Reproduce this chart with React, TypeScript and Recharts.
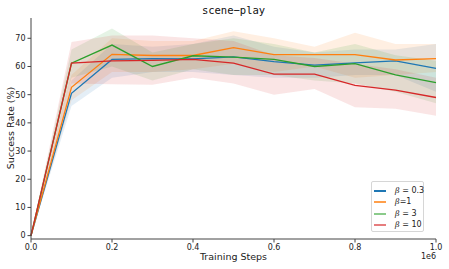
import React from "react";
import {
  ComposedChart,
  Line,
  Area,
  XAxis,
  YAxis,
} from "recharts";

const steps = [0, 100000, 200000, 300000, 400000, 500000, 600000, 700000, 800000, 900000, 1000000];

const beta03 = [0, 50.5, 62.5, 62.8, 62.7, 63.4, 61.7, 60.5, 61.3, 62.0, 59.3];
const beta03Low = [0, 46, 56, 58, 58, 57, 56, 56, 57, 57, 51];
const beta03High = [0, 55, 68, 67, 68, 71, 67, 65, 66, 66, 68];

const beta1 = [0, 52.6, 64.3, 63.9, 63.9, 66.7, 64.2, 64.2, 64.2, 62.3, 62.8];
const beta1Low = [0, 48, 58, 58, 59, 61, 58, 60, 56, 57, 58];
const beta1High = [0, 57, 70, 69, 69, 72.5, 70, 67, 72, 68, 68];

const beta3 = [0, 61.2, 67.6, 60.0, 63.8, 63.3, 62.5, 60.0, 61.0, 57.0, 54.3];
const beta3Low = [0, 56, 60, 55, 59, 57, 57, 55, 54, 51, 47];
const beta3High = [0, 66, 73.5, 65, 68, 70, 68, 65, 68, 64, 62];

const beta10 = [0, 61.2, 62.0, 62.2, 62.5, 61.2, 57.3, 57.3, 53.3, 51.6, 49.0];
const beta10Low = [0, 54, 53.7, 53.5, 56, 54, 50, 52, 45.5, 45, 42.5];
const beta10High = [0, 68.7, 71, 71, 70, 69, 64, 63, 61, 59, 56];

const xTicks = [0, 200000, 400000, 600000, 800000, 1000000];
const yTicks = [0, 10, 20, 30, 40, 50, 60, 70];

const series = [
  { key: "b03", label: "0.3", spaced: true, color: "#1f77b4", mean: beta03, low: beta03Low, high: beta03High, legendOpacity: 1 },
  { key: "b1", label: "1", spaced: false, color: "#ff7f0e", mean: beta1, low: beta1Low, high: beta1High, legendOpacity: 0.75 },
  { key: "b3", label: "3", spaced: true, color: "#2ca02c", mean: beta3, low: beta3Low, high: beta3High, legendOpacity: 0.55 },
  { key: "b10", label: "10", spaced: true, color: "#d62728", mean: beta10, low: beta10Low, high: beta10High, legendOpacity: 0.6 },
];

const data = steps.map((s, i) => {
  const row: Record<string, number | number[]> = { step: s };
  series.forEach((sr) => {
    row[sr.key] = sr.mean[i];
    row[sr.key + "Band"] = [sr.low[i], sr.high[i]];
  });
  return row;
});

const tickStyle = { fontSize: 8, fill: "#222", fontFamily: "DejaVu Sans" };

export default function App() {
  return (
    <div style={{ position: "absolute", left: 0, top: 0, width: 449, height: 269, background: "#fff", fontFamily: "DejaVu Sans" }}>
      <ComposedChart
        width={449}
        height={269}
        data={data}
        margin={{ top: 18, right: 13, bottom: 0, left: 0 }}
      >
        <XAxis
          xAxisId="top"
          orientation="top"
          dataKey="step"
          type="number"
          domain={[0, 1000000]}
          tick={false}
          tickLine={false}
          height={0}
          axisLine={{ stroke: "#444" }}
        />
        <YAxis
          yAxisId="right"
          orientation="right"
          domain={[-1.2, 77.2]}
          tick={false}
          tickLine={false}
          width={0}
          axisLine={{ stroke: "#999", strokeWidth: 2 }}
        />
        <XAxis
          dataKey="step"
          type="number"
          domain={[0, 1000000]}
          ticks={xTicks}
          tickFormatter={(v: number) => (v / 1e6).toFixed(1)}
          tick={tickStyle}
          tickSize={3.5}
          height={30}
          stroke="#444"
          interval={0}
        />
        <YAxis
          domain={[-1.2, 77.2]}
          ticks={yTicks}
          tick={tickStyle}
          tickSize={3.5}
          width={31}
          stroke="#444"
          interval={0}
        />
        {series.map((sr) => (
          <Area
            key={sr.key + "Band"}
            dataKey={sr.key + "Band"}
            type="linear"
            stroke="none"
            fill={sr.color}
            fillOpacity={0.12}
            isAnimationActive={false}
          />
        ))}
        {series.map((sr) => (
          <Line
            key={sr.key}
            dataKey={sr.key}
            type="linear"
            stroke={sr.color}
            strokeWidth={1.3}
            dot={false}
            activeDot={false}
            isAnimationActive={false}
          />
        ))}
      </ComposedChart>

      <div style={{ position: "absolute", left: 0, width: 467, top: 4, textAlign: "center", fontFamily: "DejaVu Sans Mono", fontSize: 10.5, color: "#111" }}>
        scene−play
      </div>
      <div style={{ position: "absolute", left: 0, width: 467, top: 251, textAlign: "center", fontSize: 9.5, color: "#222" }}>
        Training Steps
      </div>
      <div style={{ position: "absolute", left: 421, top: 252, fontSize: 8, color: "#222" }}>1e6</div>
      <div
        style={{
          position: "absolute",
          left: 10,
          top: 128,
          transform: "translate(-50%, -50%) rotate(-90deg)",
          whiteSpace: "nowrap",
          fontSize: 9.5,
          color: "#222",
        }}
      >
        Success Rate (%)
      </div>

      <div
        style={{
          position: "absolute",
          left: 371,
          top: 181,
          width: 53,
          height: 51,
          border: "1px solid #d6d6d6",
          borderRadius: 2,
          background: "rgba(255,255,255,0.8)",
          boxSizing: "border-box",
        }}
      >
        {series.map((sr, i) => (
          <div key={sr.key} style={{ position: "absolute", left: 2, top: [3, 14, 26, 37][i], height: 11, display: "flex", alignItems: "center" }}>
            <div style={{ width: 12, height: 2, background: sr.color, opacity: sr.legendOpacity }} />
            <span style={{ marginLeft: 9, fontSize: 8, color: "#222", whiteSpace: "nowrap" }}>
              <i style={{ fontFamily: "DejaVu Serif" }}>β</i>
              {sr.spaced ? " = " : "="}
              {sr.label}
            </span>
          </div>
        ))}
      </div>
    </div>
  );
}
